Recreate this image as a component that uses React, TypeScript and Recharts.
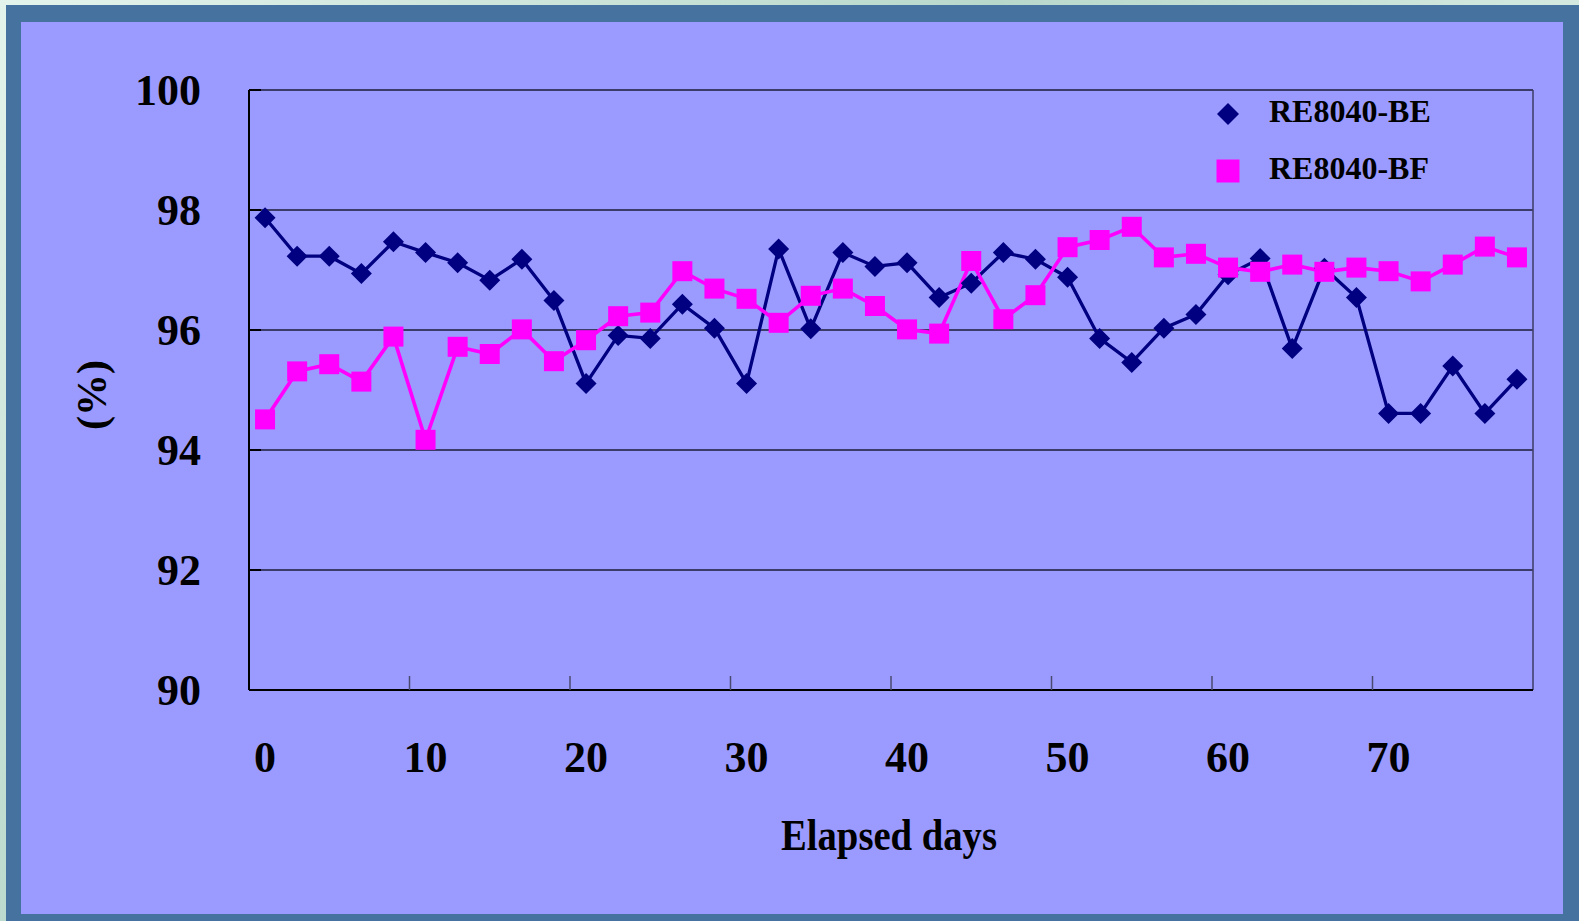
import React from "react";
import { LineChart, Line, XAxis, YAxis, CartesianGrid, ReferenceLine, Legend } from "recharts";

// sampling days (every 2 days)
const days = [0, 2, 4, 6, 8, 10, 12, 14, 16, 18, 20, 22, 24, 26, 28, 30, 32, 34, 36, 38,
  40, 42, 44, 46, 48, 50, 52, 54, 56, 58, 60, 62, 64, 66, 68, 70, 72, 74, 76, 78];

// RE8040-BE (navy diamonds)
const beValues = [97.87, 97.23, 97.23, 96.94, 97.47, 97.29, 97.12, 96.83, 97.18, 96.49,
  95.11, 95.91, 95.86, 96.43, 96.03, 95.11, 97.35, 96.02, 97.29, 97.06,
  97.12, 96.54, 96.78, 97.29, 97.18, 96.88, 95.86, 95.46, 96.03, 96.26,
  96.92, 97.19, 95.69, 97.03, 96.54, 94.61, 94.61, 95.40, 94.61, 95.18];

// RE8040-BF (magenta squares)
const bfValues = [94.51, 95.31, 95.43, 95.14, 95.89, 94.17, 95.72, 95.60, 96.01, 95.48,
  95.83, 96.23, 96.29, 96.98, 96.69, 96.52, 96.12, 96.57, 96.69, 96.40,
  96.01, 95.94, 97.15, 96.18, 96.58, 97.38, 97.50, 97.72, 97.21, 97.27,
  97.04, 96.97, 97.09, 96.97, 97.04, 96.98, 96.81, 97.09, 97.39, 97.21];

const yTicks = [90, 92, 94, 96, 98, 100];
const xLabelTicks = [0, 10, 20, 30, 40, 50, 60, 70];
const xMarkTicks = [9, 19, 29, 39, 49, 59, 69];
const seriesNames = ["RE8040-BE", "RE8040-BF"];
const xTitle = "Elapsed days";
const yTitle = "(%)";

const FONT = "'Times New Roman', 'Liberation Serif', serif";
const NAVY = "#000080";
const MAGENTA = "#ff00ff";

const data = days.map((day, i) => ({ day, be: beValues[i], bf: bfValues[i] }));
const xTicks = [...xLabelTicks, ...xMarkTicks].sort((a, b) => a - b);

function diamondPoints(cx: number, cy: number, r: number) {
  return `${cx},${cy - r} ${cx + r},${cy} ${cx},${cy + r} ${cx - r},${cy}`;
}

const renderDiamond = (p: any) => {
  if (p.cx == null || p.cy == null) return <g key={p.index} />;
  return <polygon key={p.index} points={diamondPoints(p.cx, p.cy, 10.5)} fill={NAVY} />;
};

const renderSquare = (p: any) => {
  if (p.cx == null || p.cy == null) return <g key={p.index} />;
  return <rect key={p.index} x={p.cx - 10} y={p.cy - 10} width={20} height={20} fill={MAGENTA} />;
};

function XTick({ x, y, payload }: any) {
  const v = payload.value;
  if (xMarkTicks.includes(v)) {
    return <line x1={x} x2={x} y1={y} y2={y - 14} stroke="#4a4a70" strokeWidth={1.5} />;
  }
  return (
    <text x={x} y={y + 82} textAnchor="middle" fontFamily={FONT} fontWeight="bold" fontSize={44} fill="#000">
      {v}
    </text>
  );
}

function YTick({ x, y, payload }: any) {
  return (
    <g>
      <line x1={x} x2={x + 12} y1={y} y2={y} stroke="#000" strokeWidth={2} />
      <text x={x - 48} y={y + 15} textAnchor="end" fontFamily={FONT} fontWeight="bold" fontSize={44} fill="#000">
        {payload.value}
      </text>
    </g>
  );
}

function YTitle(props: any) {
  const vb = props.viewBox || { x: 0, y: 68, width: 228, height: 600 };
  const cx = vb.x + 71;
  const cy = vb.y + vb.height / 2 + 5;
  return (
    <text x={cx} y={cy} transform={`rotate(-90, ${cx}, ${cy})`} textAnchor="middle" dominantBaseline="central"
      fontFamily={FONT} fontWeight="bold" fontSize={42} fill="#000">
      {yTitle}
    </text>
  );
}

function XTitle(props: any) {
  const vb = props.viewBox || { x: 228, y: 668, width: 1284, height: 224 };
  return (
    <text x={vb.x + vb.width / 2 - 2} y={vb.y + 160} textAnchor="middle" fontFamily={FONT} fontWeight="bold"
      fontSize={44} fill="#000" textLength={216} lengthAdjust="spacingAndGlyphs">
      {xTitle}
    </text>
  );
}

function LegendBox() {
  return (
    <svg width={300} height={110} style={{ display: "block" }}>
      <polygon points={diamondPoints(17, 22, 11)} fill={NAVY} />
      <text x={58} y={30} fontFamily={FONT} fontWeight="bold" fontSize={32} fill="#000">{seriesNames[0]}</text>
      <rect x={5.5} y={67.5} width={23} height={23} fill={MAGENTA} />
      <text x={58} y={87} fontFamily={FONT} fontWeight="bold" fontSize={32} fill="#000">{seriesNames[1]}</text>
    </svg>
  );
}

export default function App() {
  return (
    <div style={{
      position: "absolute", left: 0, top: 0, width: 1579, height: 921,
      background: "linear-gradient(135deg, #e4f4ec 0%, #b9d8cc 40%, #dcefe6 70%, #a9cbbf 100%)",
    }}>
      <div style={{ position: "absolute", left: 6, top: 5, right: 0, bottom: 0, background: "#4672a0" }} />
      <div style={{ position: "absolute", left: 21, top: 22, width: 1542, height: 892, background: "#9b9bff" }}>
        <LineChart width={1542} height={892} data={data} margin={{ top: 68, right: 30, bottom: 0, left: 0 }}>
          <CartesianGrid vertical={false} stroke="#1c1c3a" strokeWidth={1.3} />
          <XAxis dataKey="day" type="number" domain={[-1, 79]} ticks={xTicks} interval={0} height={224}
            tick={<XTick />} tickLine={false} tickSize={0} tickMargin={0}
            axisLine={{ stroke: "#000", strokeWidth: 2 }} label={<XTitle />} />
          <YAxis type="number" domain={[90, 100]} ticks={yTicks} interval={0} width={228}
            tick={<YTick />} tickLine={false} tickSize={0} tickMargin={0}
            axisLine={{ stroke: "#000", strokeWidth: 2 }} label={<YTitle />} />
          <ReferenceLine x={79} stroke="#3d3d66" strokeWidth={1.5} />
          <Legend layout="vertical" align="center" verticalAlign="middle" content={<LegendBox />}
            wrapperStyle={{ left: 1190, top: 70, width: 300 }} />
          <Line dataKey="be" name={seriesNames[0]} stroke={NAVY} strokeWidth={3.3} dot={renderDiamond}
            activeDot={false} isAnimationActive={false} />
          <Line dataKey="bf" name={seriesNames[1]} stroke={MAGENTA} strokeWidth={3.6} dot={renderSquare}
            activeDot={false} isAnimationActive={false} />
        </LineChart>
      </div>
    </div>
  );
}
